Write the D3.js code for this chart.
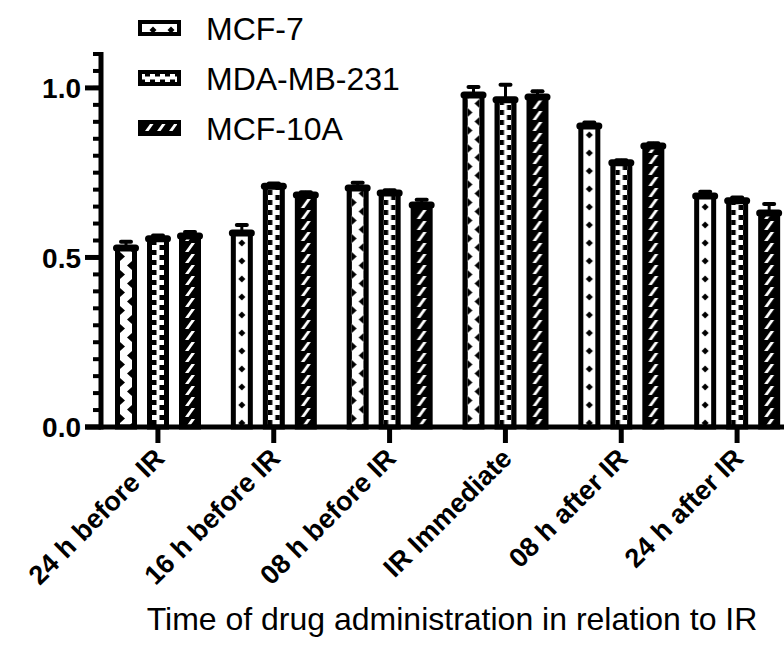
<!DOCTYPE html>
<meta charset="utf-8">
<style>
body { margin: 0; background: #fff; }
text { font-family: "Liberation Sans", Arial, Helvetica, sans-serif; fill: #000; }
</style>
<svg width="784" height="653"></svg>
<script src="https://cdn.jsdelivr.net/npm/d3@7"></script>
<script>
// data
var categories = ["24 h before IR", "16 h before IR", "08 h before IR", "IR Immediate", "08 h after IR", "24 h after IR"];
var seriesNames = ["MCF-7", "MDA-MB-231", "MCF-10A"];
var mcf7Mean = [0.528, 0.572, 0.705, 0.979, 0.888, 0.681];
var mcf7Err = [0.018, 0.024, 0.015, 0.024, 0.010, 0.013];
var mdaMean = [0.555, 0.710, 0.690, 0.965, 0.779, 0.667];
var mdaErr = [0.010, 0.008, 0.008, 0.044, 0.008, 0.010];
var mcf10aMean = [0.563, 0.684, 0.655, 0.973, 0.829, 0.631];
var mcf10aErr = [0.012, 0.008, 0.015, 0.017, 0.008, 0.027];
var yTicks = [0, 0.5, 1.0];
var xTitle = "Time of drug administration in relation to IR";

var means = [mcf7Mean, mdaMean, mcf10aMean];
var errs = [mcf7Err, mdaErr, mcf10aErr];

var svg = d3.select("svg");
var defs = svg.append("defs");

var y = d3.scaleLinear().domain([0, 1.1]).range([427, 54]);
var x0 = d3.scaleBand().domain(categories).range([100, 795]);
var x1 = d3.scaleBand().domain(seriesNames).range([15, 101]).paddingInner(0.3125);

// MCF-7 fill looks different between groups (zigzag vs diamonds)
var zigGroups = [0, 2, 3];

function makePattern(id, kind, px, rot) {
  var tile = { zig: [12, 18], dia: [12, 18], sq: [12, 10], hatch: [12, 11] }[kind];
  var p = defs.append("pattern")
    .attr("id", id)
    .attr("patternUnits", "userSpaceOnUse")
    .attr("x", px).attr("y", 0)
    .attr("width", tile[0]).attr("height", tile[1]);
  if (rot) p.attr("patternTransform", "rotate(90)");
  if (kind === "hatch") {
    p.append("rect").attr("width", tile[0]).attr("height", tile[1]).attr("fill", "#000");
    p.append("polygon").attr("points", "1,10 4.5,10 11,1 7.5,1").attr("fill", "#fff");
    return;
  }
  p.append("rect").attr("width", tile[0]).attr("height", tile[1]).attr("fill", "#fff");
  if (kind === "zig") {
    p.append("polygon").attr("points", "0,0 5,4.5 0,9").attr("fill", "#000");
    p.append("polygon").attr("points", "12,9 7,13.5 12,18").attr("fill", "#000");
  } else if (kind === "dia") {
    p.append("polygon").attr("points", "6,5.5 9.5,9 6,12.5 2.5,9").attr("fill", "#000");
  } else if (kind === "sq") {
    p.append("rect").attr("x", 0).attr("y", 0).attr("width", 4.5).attr("height", 5).attr("fill", "#000");
    p.append("rect").attr("x", 7.5).attr("y", 5).attr("width", 4.5).attr("height", 5).attr("fill", "#000");
  }
}

var bars = [];
categories.forEach(function (c, g) {
  seriesNames.forEach(function (s, k) {
    bars.push({ cat: c, g: g, series: s, k: k, v: means[k][g], e: errs[k][g] });
  });
});

bars.forEach(function (d, i) {
  var bx = x0(d.cat) + x1(d.series);
  d.bx = bx;
  var kind = d.k === 0 ? (zigGroups.indexOf(d.g) >= 0 ? "zig" : "dia") : (d.k === 1 ? "sq" : "hatch");
  d.pid = "pat" + i;
  makePattern(d.pid, kind, bx + 5, false);
});

var bw = x1.bandwidth();

var barG = svg.append("g");
barG.selectAll("rect")
  .data(bars)
  .enter().append("rect")
    .attr("x", function (d) { return d.bx + 2.5 })
    .attr("y", function (d) { return y(d.v) })
    .attr("width", bw - 5)
    .attr("height", function (d) { return y(0) - y(d.v) })
    .attr("fill", function (d) { return "url(#" + d.pid + ")" })
    .attr("stroke", "#000")
    .attr("stroke-width", 5);

// error bars
var errG = svg.append("g").attr("stroke", "#000").attr("stroke-linecap", "round");
errG.selectAll("line.stem")
  .data(bars)
  .enter().append("line")
    .attr("class", "stem")
    .attr("x1", function (d) { return d.bx + bw / 2 })
    .attr("x2", function (d) { return d.bx + bw / 2 })
    .attr("y1", function (d) { return y(d.v) })
    .attr("y2", function (d) { return y(d.v + d.e) })
    .attr("stroke-width", 3);
errG.selectAll("line.cap")
  .data(bars)
  .enter().append("line")
    .attr("class", "cap")
    .attr("x1", function (d) { return d.bx + bw / 2 - 5 })
    .attr("x2", function (d) { return d.bx + bw / 2 + 5 })
    .attr("y1", function (d) { return y(d.v + d.e) })
    .attr("y2", function (d) { return y(d.v + d.e) })
    .attr("stroke-width", 4);
errG.selectAll("line.band")
  .data(bars)
  .enter().append("line")
    .attr("class", "band")
    .attr("x1", function (d) { return d.bx + 1.5 })
    .attr("x2", function (d) { return d.bx + bw - 1.5 })
    .attr("y1", function (d) { return y(d.v) })
    .attr("y2", function (d) { return y(d.v) })
    .attr("stroke-width", 7);

// y axis
var axG = svg.append("g");
axG.append("line")
  .attr("x1", 101).attr("x2", 101)
  .attr("y1", y(1.1) - 2).attr("y2", y(0) + 2.5)
  .attr("stroke", "#000").attr("stroke-width", 5);
axG.selectAll("line.minor")
  .data(d3.range(0, 1.1001, 0.05))
  .enter().append("line")
    .attr("x1", 93).attr("x2", 101)
    .attr("y1", function (d) { return y(d) })
    .attr("y2", function (d) { return y(d) })
    .attr("stroke", "#000").attr("stroke-width", 4);
axG.selectAll("line.major")
  .data(yTicks)
  .enter().append("line")
    .attr("x1", 85).attr("x2", 101)
    .attr("y1", function (d) { return y(d) })
    .attr("y2", function (d) { return y(d) })
    .attr("stroke", "#000").attr("stroke-width", 5);
axG.selectAll("text.ylab")
  .data(yTicks)
  .enter().append("text")
    .attr("x", 81)
    .attr("y", function (d) { return y(d) })
    .attr("dy", "0.36em")
    .attr("text-anchor", "end")
    .attr("font-size", 28)
    .attr("font-weight", "bold")
    .text(function (d) { return d3.format(".1f")(d) });

// x axis
axG.append("line")
  .attr("x1", 85).attr("x2", 784)
  .attr("y1", y(0)).attr("y2", y(0))
  .attr("stroke", "#000").attr("stroke-width", 5);
axG.selectAll("line.xt")
  .data(categories)
  .enter().append("line")
    .attr("x1", function (d) { return x0(d) + x0.bandwidth() / 2 })
    .attr("x2", function (d) { return x0(d) + x0.bandwidth() / 2 })
    .attr("y1", y(0)).attr("y2", y(0) + 16)
    .attr("stroke", "#000").attr("stroke-width", 5);
axG.selectAll("text.xlab")
  .data(categories)
  .enter().append("text")
    .attr("text-anchor", "end")
    .attr("font-size", 27)
    .attr("font-weight", "bold")
    .attr("transform", function (d) {
      return "translate(" + (x0(d) + x0.bandwidth() / 2 + 8) + "," + 460 + ") rotate(-45)";
    })
    .text(function (d) { return d });

svg.append("text")
  .attr("x", 452).attr("y", 630)
  .attr("text-anchor", "middle")
  .attr("font-size", 32)
  .text(xTitle);

// legend
var legKinds = ["dia", "sq", "hatch"];
var legG = svg.append("g");
seriesNames.forEach(function (s, k) {
  var cy = 28 + k * 50;
  makePattern("leg" + k, legKinds[k], 0, k < 2);
  legG.append("rect")
    .attr("x", 140).attr("y", cy - 6)
    .attr("width", 39).attr("height", 12)
    .attr("fill", "url(#leg" + k + ")")
    .attr("stroke", "#000").attr("stroke-width", 4);
  legG.append("text")
    .attr("x", 206).attr("y", cy)
    .attr("dy", "0.36em")
    .attr("font-size", 32)
    .text(s);
});
</script>
